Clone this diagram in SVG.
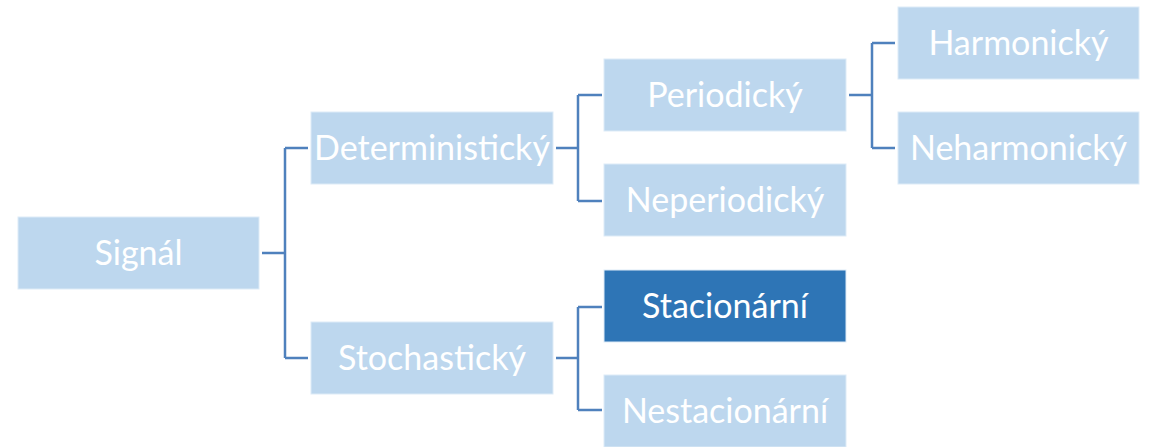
<svg xmlns="http://www.w3.org/2000/svg" width="1153" height="447" viewBox="0 0 1153 447">
<style>
.box{fill:#BDD7EE;stroke:#DDEBF7;stroke-width:1}
.dark{fill:#2E75B6;stroke:#DDEBF7;stroke-width:1}
.lbl{font-family:Lato,"Open Sans",sans-serif;font-size:34px;fill:#FFFFFF;text-anchor:middle}
.con{fill:none;stroke:#4F81BD;stroke-width:2.5}
</style>
<rect width="1153" height="447" fill="#FFFFFF"/>
<g id="connectors">
<path class="con" d="M262 253H285M285 148V358M285 148H308M285 358H308"/>
<path class="con" d="M556 148H578M578 95V201M578 95H602M578 201H602"/>
<path class="con" d="M556 358H578M578 307V410M578 307H602M578 410H602"/>
<path class="con" d="M849 95H872M872 43V148M872 43H895M872 148H895"/>
</g>
<g id="signal"><rect class="box" x="18" y="217" width="241" height="72"/><text class="lbl" x="138.5" y="265">Signál</text></g>
<g id="deterministicky"><rect class="box" x="311" y="112" width="242" height="72"/><text class="lbl" x="432" y="160">Deterministický</text></g>
<g id="stochasticky"><rect class="box" x="311" y="322" width="242" height="72"/><text class="lbl" x="432" y="370">Stochastický</text></g>
<g id="periodicky"><rect class="box" x="604" y="59" width="242" height="72"/><text class="lbl" x="725" y="107">Periodický</text></g>
<g id="neperiodicky"><rect class="box" x="604" y="164" width="242" height="72"/><text class="lbl" x="725" y="212">Neperiodický</text></g>
<g id="stacionarni"><rect class="dark" x="604" y="270" width="242" height="72"/><text class="lbl" x="725" y="318">Stacionární</text></g>
<g id="nestacionarni"><rect class="box" x="604" y="375" width="242" height="72"/><text class="lbl" x="725" y="423">Nestacionární</text></g>
<g id="harmonicky"><rect class="box" x="898" y="7" width="241" height="72"/><text class="lbl" x="1018.5" y="55">Harmonický</text></g>
<g id="neharmonicky"><rect class="box" x="898" y="112" width="241" height="72"/><text class="lbl" x="1018.5" y="160">Neharmonický</text></g>
</svg>
